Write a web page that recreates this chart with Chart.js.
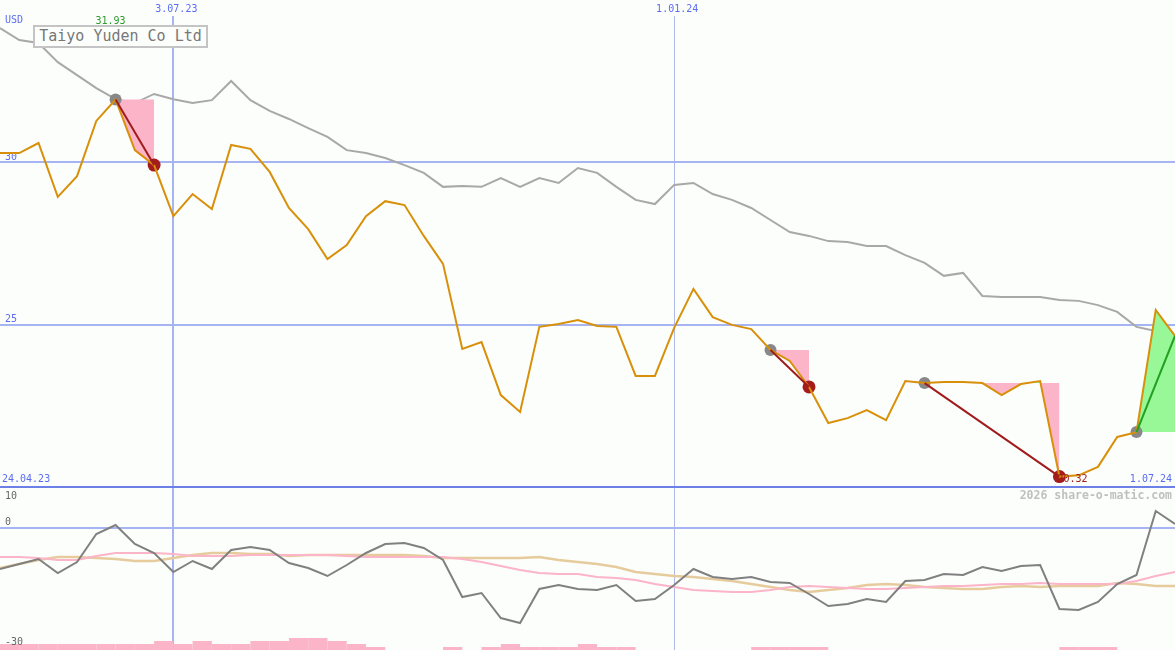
<!DOCTYPE html>
<html>
<head>
<meta charset="utf-8">
<script src="https://cdn.jsdelivr.net/npm/chart.js@4.4.1/dist/chart.umd.min.js"></script>
<style>
  html, body { margin: 0; padding: 0; background: #fcfefc; }
  #wrap { position: relative; width: 1175px; height: 650px; background: #fcfefc; overflow: hidden; }
  #top { position: absolute; left: 0; top: 0; }
  #bottom { position: absolute; left: 0; top: 488px; }
  #title { position: absolute; left: 33px; top: 25px; width: 171px; height: 19px; border: 2px solid #c4c4c4;
           background: #fcfefc; color: #777; font: 15px 'DejaVu Sans Mono', monospace; line-height: 19px; text-align: center; }
</style>
</head>
<body>
<div id="wrap">
  <canvas id="top" width="1175" height="489"></canvas>
  <canvas id="bottom" width="1175" height="162"></canvas>
  <div id="title">Taiyo Yuden Co Ltd</div>
</div>
<script>
// weekly closes, USD
var price = [30.28,30.28,30.59,28.93,29.57,31.27,31.93,30.37,29.91,28.34,
  29.02,28.56,30.53,30.41,29.70,28.59,27.94,27.02,27.45,28.34,
  28.80,28.68,27.73,26.87,24.25,24.46,22.83,22.31,24.93,25.02,
  25.14,24.96,24.93,23.42,23.42,24.90,26.10,25.23,24.99,24.86,
  24.22,23.88,23.08,21.97,22.12,22.37,22.06,23.26,23.20,23.23,
  23.23,23.20,22.83,23.17,23.26,20.32,20.36,20.62,21.54,21.69,
  25.45,24.65];
// moving average (grey)
var avg = [34.13,33.76,33.67,33.08,32.68,32.28,31.94,31.82,32.10,31.94,
  31.82,31.91,32.50,31.91,31.58,31.33,31.05,30.78,30.37,30.28,
  30.13,29.91,29.67,29.24,29.27,29.24,29.51,29.24,29.51,29.36,
  29.82,29.67,29.24,28.84,28.71,29.30,29.36,29.02,28.84,28.59,
  28.22,27.85,27.73,27.57,27.54,27.42,27.42,27.14,26.90,26.50,
  26.59,25.88,25.85,25.85,25.85,25.76,25.73,25.60,25.39,24.93,
  24.80,24.65];
// lower panel
var osc = [-10.25,-9.0,-7.75,-11.25,-8.5,-1.5,0.75,-4.0,-6.25,-11.0,
  -8.25,-10.25,-5.5,-4.75,-5.5,-8.75,-10.0,-12.0,-9.25,-6.25,
  -4.0,-3.75,-5.0,-8.0,-17.25,-16.25,-22.5,-23.75,-15.25,-14.25,
  -15.25,-15.5,-14.25,-18.25,-17.75,-14.25,-10.25,-12.25,-12.75,-12.25,
  -13.5,-13.75,-16.5,-19.5,-19.0,-17.75,-18.5,-13.25,-13.0,-11.5,
  -11.75,-9.75,-10.75,-9.5,-9.25,-20.25,-20.5,-18.5,-14.0,-11.75,
  4.25,1.0];
var oscPink = [-7.25,-7.25,-7.5,-8.0,-8.0,-7.0,-6.25,-6.25,-6.25,-6.5,
  -7.0,-7.0,-7.0,-6.75,-6.75,-6.75,-6.75,-6.75,-7.0,-7.25,
  -7.25,-7.25,-7.25,-7.25,-7.75,-8.5,-9.5,-10.5,-11.25,-11.5,
  -11.5,-12.25,-12.5,-13.0,-14.0,-14.75,-15.5,-15.75,-16.0,-16.0,
  -15.5,-14.75,-14.5,-14.75,-15.0,-15.25,-15.25,-15.0,-14.75,-14.5,
  -14.5,-14.25,-14.0,-14.0,-13.75,-14.0,-14.0,-14.0,-14.0,-13.25,
  -12.0,-11.0];
var oscTan = [-10.0,-9.0,-8.0,-7.25,-7.25,-7.5,-7.75,-8.25,-8.25,-7.5,
  -6.75,-6.25,-6.25,-6.5,-6.5,-7.0,-6.75,-6.75,-6.75,-6.75,
  -6.75,-6.75,-7.0,-7.5,-7.5,-7.5,-7.5,-7.5,-7.25,-8.0,
  -8.5,-9.0,-9.75,-11.0,-11.5,-12.0,-12.25,-12.75,-13.25,-14.0,
  -14.75,-15.5,-16.0,-15.5,-15.0,-14.25,-14.0,-14.25,-14.75,-15.0,
  -15.25,-15.25,-14.75,-14.5,-14.75,-14.5,-14.5,-14.5,-13.75,-14.0,
  -14.5,-14.5];
var vol = [2,2,2,2,2,2,2,2,3,2, 3,2,2,3,3,4,4,3,2,1, 0,0,0,1,0,1,2,1,1,1,
  2,1,1,0,0,0,0,0,0,1, 1,1,1,0,0,0,0,0,0,0, 0,0,0,0,0,1,1,1,0,0, 0,0];

// signals: start week, end week, still open
var sigStart = [6, 40, 48, 59];
var sigEnd = [8, 42, 55, 61];
var sigOpen = [false, false, false, true];

var xTickIdx = [9, 35];
var xTickLabels = ['3.07.23', '1.01.24'];
var rangeLabels = ['24.04.23', '1.07.24'];
var yTicks = [30, 25];
var lowTicks = [10, 0, -30];
var currency = 'USD';
var credit = '2026 share-o-matic.com';

var mono = "'DejaVu Sans Mono', monospace";
Chart.defaults.font.family = mono;
var blue = '#5b6cf0';
var grid = '#a6b4f4';
var pink = '#fbb4c8';

function pts(arr, off) {
  return arr.map(function (v, i) { return {x: i + (off || 0), y: v}; });
}
function gridColor(c) {
  if (c.tick.value === 20) return '#6d80e8';
  if (c.tick.value === 35) return '#b0bae6';
  return grid;
}
function gridWidth(c) { return c.tick.value === 35 ? 1 : 2; }
function text(ctx, s, x, y, color, align, font) {
  ctx.save();
  ctx.font = font || ('10px ' + mono);
  ctx.fillStyle = color;
  ctx.textAlign = align || 'left';
  ctx.textBaseline = 'middle';
  ctx.fillText(s, x, y);
  ctx.restore();
}

var hi = price.indexOf(Math.max.apply(null, price));
var lo = price.indexOf(Math.min.apply(null, price));

var topLabels = {
  id: 'topLabels',
  beforeDatasetsDraw: function (chart) {
    var y = chart.scales.y;
    yTicks.forEach(function (v) { text(chart.ctx, String(v), 5, y.getPixelForValue(v) - 5, blue); });
  },
  afterDraw: function (chart) {
    var ctx = chart.ctx, x = chart.scales.x, y = chart.scales.y, a = chart.chartArea;
    var base = y.getPixelForValue(y.min) - 8;
    xTickIdx.forEach(function (v, k) { text(ctx, xTickLabels[k], x.getPixelForValue(v) + 3, 9, blue, 'center'); });
    text(ctx, currency, 5, 20, blue);
    text(ctx, price[hi].toFixed(2), x.getPixelForValue(hi) - 5, 21, '#2c9c2c', 'center');
    text(ctx, rangeLabels[0], 2, base, blue);
    text(ctx, rangeLabels[1], a.right - 3, base, blue, 'right');
    text(ctx, price[lo].toFixed(2), x.getPixelForValue(lo) - 2, base, '#a01c1c');
  }
};

var bottomLabels = {
  id: 'bottomLabels',
  afterDraw: function (chart) {
    var ctx = chart.ctx, y = chart.scales.y, a = chart.chartArea;
    lowTicks.forEach(function (v) {
      var p = y.getPixelForValue(v);
      text(ctx, String(v), 5, v === y.max ? p + 8 : p - 6, '#666');
    });
    text(ctx, credit, a.right - 3, a.top + 8, '#c0c0c0', 'right', 'bold 11.5px ' + mono);
  }
};

// price chart datasets
var sets = [{
  label: 'Close', data: pts(price), borderColor: '#d8900a', borderWidth: 2,
  pointRadius: 0, tension: 0, order: 3
}, {
  label: 'Average', data: pts(avg), borderColor: '#a8a8a8', borderWidth: 2,
  pointRadius: 0, tension: 0, order: 10
}];
sigStart.forEach(function (s, k) {
  var e = sigEnd[k], lvl = [];
  for (var i = s; i <= e; i++) lvl.push({x: i, y: price[s]});
  sets.push({
    data: lvl, borderColor: 'transparent', borderWidth: 0, pointRadius: 0, order: 8,
    fill: {target: 0, above: pink, below: '#98f898'}
  });
  sets.push({
    data: [{x: s, y: price[s]}, {x: e, y: price[e]}],
    borderColor: sigOpen[k] ? '#22a022' : '#a01c1c', borderWidth: 2, pointRadius: 0, order: 2
  });
});
sets.push({
  data: sigStart.map(function (s) { return {x: s, y: price[s]}; }),
  showLine: false, pointRadius: 6, pointBackgroundColor: '#888', pointBorderWidth: 0, order: 4
});
sets.push({
  data: sigEnd.filter(function (e, k) { return !sigOpen[k]; }).map(function (e) { return {x: e, y: price[e]}; }),
  showLine: false, pointRadius: 6.5, pointBackgroundColor: '#a41c1c', pointBorderWidth: 0, order: 4
});

new Chart(document.getElementById('top').getContext('2d'), {
  type: 'line',
  data: {datasets: sets},
  options: {
    responsive: false, animation: false, devicePixelRatio: 1,
    layout: {autoPadding: false, padding: {left: 0, right: 0, top: 0, bottom: 2}},
    plugins: {legend: {display: false}, tooltip: {enabled: false}},
    scales: {
      x: {
        type: 'linear', position: 'top', min: 0, max: 61, offset: false,
        afterBuildTicks: function (s) { s.ticks = xTickIdx.map(function (v) { return {value: v}; }); },
        afterFit: function (s) { s.height = 16; },
        grid: {color: gridColor, lineWidth: gridWidth, drawTicks: false, offset: false},
        border: {display: false},
        ticks: {display: false}
      },
      y: {
        type: 'linear', min: 20, max: 34.5,
        afterBuildTicks: function (s) { s.ticks = [20, 25, 30].map(function (v) { return {value: v}; }); },
        afterFit: function (s) { s.width = 0; },
        grid: {color: gridColor, lineWidth: 2, drawTicks: false},
        border: {display: false},
        ticks: {display: false}
      }
    }
  },
  plugins: [topLabels]
});

new Chart(document.getElementById('bottom').getContext('2d'), {
  type: 'line',
  data: {
    datasets: [{
      data: pts(osc), borderColor: '#808080', borderWidth: 2, pointRadius: 0, tension: 0, order: 1
    }, {
      data: pts(oscPink), borderColor: pink, borderWidth: 2, pointRadius: 0, tension: 0, order: 2
    }, {
      data: pts(oscTan), borderColor: '#e6cc9c', borderWidth: 2.5, pointRadius: 0, tension: 0, order: 3
    }, {
      type: 'bar', data: pts(vol, 0.5), yAxisID: 'yv', backgroundColor: pink, borderWidth: 0,
      barPercentage: 1, categoryPercentage: 1, inflateAmount: 0, order: 5
    }]
  },
  options: {
    responsive: false, animation: false, devicePixelRatio: 1,
    layout: {autoPadding: false, padding: 0},
    plugins: {legend: {display: false}, tooltip: {enabled: false}},
    scales: {
      x: {
        type: 'linear', position: 'bottom', min: 0, max: 61, offset: false,
        afterBuildTicks: function (s) { s.ticks = xTickIdx.map(function (v) { return {value: v}; }); },
        afterFit: function (s) { s.height = 0; },
        grid: {color: gridColor, lineWidth: gridWidth, drawTicks: false, offset: false},
        border: {display: false},
        ticks: {display: false}
      },
      y: {
        type: 'linear', min: -30.5, max: 10,
        afterBuildTicks: function (s) { s.ticks = [{value: 0}]; },
        afterFit: function (s) { s.width = 0; },
        grid: {color: grid, lineWidth: 2, drawTicks: false},
        border: {display: false},
        ticks: {display: false}
      },
      yv: {type: 'linear', min: 0, max: 54, display: false}
    }
  },
  plugins: [bottomLabels]
});
</script>
</body>
</html>
